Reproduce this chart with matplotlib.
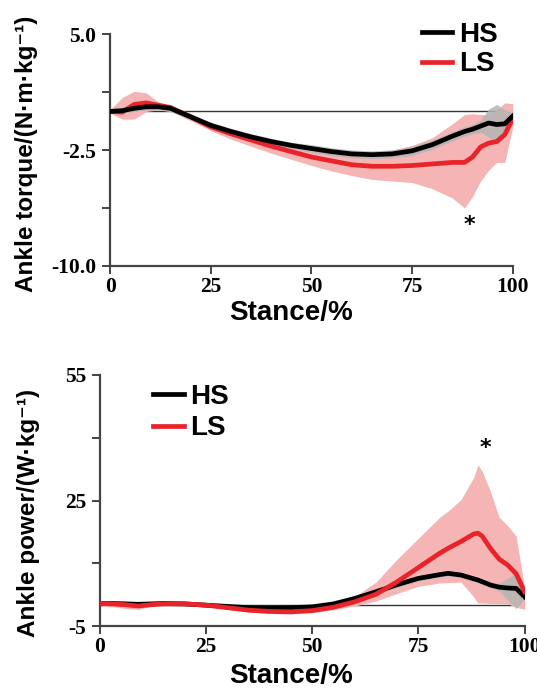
import numpy as np
import matplotlib
matplotlib.use("Agg")
import matplotlib.pyplot as plt

# ---- ankle torque (top panel) ----
stance_t = [0, 3, 6, 9, 12, 15, 20, 25, 30, 35, 40, 45, 50, 55, 60, 65, 70,
            75, 80, 85, 88, 90, 92, 94, 96, 98, 100]
hs_torque = [0.0, 0.05, 0.2, 0.3, 0.3, 0.2, -0.35, -0.9, -1.3, -1.65, -1.95, -2.2,
             -2.4, -2.6, -2.75, -2.8, -2.75, -2.55, -2.15, -1.6, -1.3, -1.15,
             -0.95, -0.75, -0.85, -0.8, -0.3]
hs_torque_sd = [0.1, 0.15, 0.2, 0.2, 0.2, 0.2, 0.2, 0.2, 0.2, 0.2, 0.2, 0.2, 0.25,
                0.25, 0.25, 0.25, 0.25, 0.3, 0.3, 0.3, 0.3, 0.3, 0.4, 0.9, 1.3, 0.9, 0.2]
ls_torque = [0.0, -0.05, 0.45, 0.55, 0.4, 0.25, -0.35, -1.0, -1.45, -1.85, -2.25,
             -2.6, -2.95, -3.2, -3.45, -3.55, -3.55, -3.5, -3.4, -3.3, -3.3, -2.95,
             -2.3, -2.05, -1.95, -1.5, -0.45]
ls_torque_hi = [0.1, 0.9, 1.3, 1.2, 0.6, 0.35, -0.15, -0.75, -1.1, -1.45, -1.75,
                -2.05, -2.3, -2.55, -2.6, -2.6, -2.5, -2.2, -1.7, -0.8, -0.2, -0.15,
                -0.2, -0.2, 0.1, 0.55, 0.5]
ls_torque_lo = [-0.1, -0.5, -0.5, 0.0, 0.1, 0.0, -0.6, -1.25, -1.8, -2.25, -2.7,
                -3.1, -3.5, -3.85, -4.15, -4.4, -4.5, -4.6, -5.0, -5.6, -6.25, -5.5,
                -4.5, -3.8, -3.3, -3.3, -1.0]

# ---- ankle power (bottom panel) ----
stance_p = [0, 3, 6, 9, 12, 15, 20, 25, 30, 35, 40, 45, 50, 55, 60, 65, 70, 75,
            80, 82, 85, 88, 89, 90, 92, 94, 96, 98, 100]
hs_power = [0.4, 0.4, 0.3, 0.2, 0.3, 0.4, 0.3, 0.0, -0.3, -0.6, -0.7, -0.6, -0.4,
            0.3, 1.6, 3.2, 4.9, 6.4, 7.3, 7.6, 7.2, 6.3, 6.0, 5.6, 4.8, 4.3, 4.1,
            4.0, 2.0]
hs_power_hi = [0.8, 0.8, 0.7, 0.6, 0.7, 0.8, 0.7, 0.4, 0.1, -0.2, -0.3, -0.2, 0.0,
               0.8, 2.1, 3.8, 5.5, 7.0, 7.9, 8.2, 7.8, 6.9, 6.6, 6.2, 5.4, 5.2, 6.5,
               7.6, 2.5]
hs_power_lo = [0.0, 0.0, -0.1, -0.2, -0.1, 0.0, -0.1, -0.4, -0.7, -1.0, -1.1, -1.0,
               -0.8, -0.2, 1.1, 2.6, 4.3, 5.8, 6.7, 7.0, 6.6, 5.7, 5.4, 5.0, 4.2,
               3.4, 1.2, -0.8, 1.5]
ls_power = [0.4, 0.3, 0.1, -0.2, 0.1, 0.3, 0.3, 0.0, -0.6, -1.2, -1.5, -1.6, -1.3,
            -0.5, 0.8, 2.6, 5.6, 9.0, 12.4, 13.6, 15.2, 17.0, 17.2, 16.5, 13.5,
            11.0, 9.6, 7.5, 3.2]
ls_power_hi = [1.0, 0.9, 1.0, 0.5, 0.4, 0.5, 0.5, 0.3, -0.2, -0.6, -0.9, -1.0, -0.8,
               0.1, 2.0, 5.5, 11.0, 16.0, 21.0, 22.5, 25.2, 30.5, 33.5, 32.0, 27.0,
               21.0, 19.0, 16.5, 4.0]
ls_power_lo = [-0.3, -0.4, -0.8, -1.0, -0.3, 0.1, 0.1, -0.3, -1.0, -1.6, -2.0, -2.1,
               -1.8, -1.1, -0.2, 1.0, 2.8, 4.5, 5.3, 5.4, 5.5, 2.0, 0.5, 0.5, 0.4,
               0.4, 0.3, -0.5, -1.0]

x_ticks = [0, 25, 50, 75, 100]
torque_ticks = [5.0, 1.25, -2.5, -6.25, -10.0]
torque_labels = ["5.0", "", "-2.5", "", "-10.0"]
power_ticks = [55, 40, 25, 10, -5]
power_labels = ["55", "", "25", "", "-5"]

RED = "#e8242a"
PINK = "#f5b5b5"
GREY = "#b4b4b4"
SPINE = "#444444"
SANS = ["Liberation Sans", "DejaVu Sans"]
SERIF = ["Liberation Serif", "DejaVu Serif"]
LEG_FONT = {"family": SANS, "weight": "bold", "size": 20}


def style_axis(ax, yticks, ylabels, ylim, xlab_y):
    ax.set_xlim(0, 100)
    ax.set_ylim(*ylim)
    for s in ("top", "right"):
        ax.spines[s].set_visible(False)
    for s in ("left", "bottom"):
        ax.spines[s].set_color(SPINE)
        ax.spines[s].set_linewidth(1.6)
    ax.set_xticks(x_ticks)
    ax.set_yticks(yticks)
    ax.set_yticklabels(ylabels)
    ax.tick_params(direction="out", length=5.8, width=1.4, color=SPINE)
    ax.tick_params(axis="x", pad=2)
    ax.tick_params(axis="y", pad=4)
    for lab in ax.get_xticklabels() + ax.get_yticklabels():
        lab.set_family(SERIF)
        lab.set_fontweight("bold")
        lab.set_fontsize(15.5)
    ax.set_xlabel("Stance/%", family=SANS, fontweight="bold", fontsize=20)
    ax.xaxis.set_label_coords(0.45, xlab_y)


fig = plt.figure(figsize=(5.37, 6.88), dpi=100)

# top: torque
ax1 = fig.add_axes([0.205, 0.6134, 0.750, 0.337])
ax1.axhline(0, 0, 1, color="#333333", lw=1.0, zorder=1)
ax1.fill_between(stance_t, ls_torque_lo, ls_torque_hi, color=PINK, lw=0, zorder=2)
hs_t = np.array(hs_torque)
sd_t = np.array(hs_torque_sd)
ax1.fill_between(stance_t, hs_t - sd_t, hs_t + sd_t, color=GREY, lw=0, alpha=0.85, zorder=3)
ax1.plot(stance_t, ls_torque, color=RED, lw=3.4, zorder=4, label="LS")
ax1.plot(stance_t, hs_torque, color="black", lw=3.4, zorder=5, label="HS")
ax1.text(89.3, -7.35, "*", ha="center", va="center", fontsize=16, fontweight="bold")
style_axis(ax1, torque_ticks, torque_labels, (-10, 5), -0.145)
ax1.set_ylabel("Ankle torque/(N·m·kg⁻¹)", family=SANS, fontweight="bold", fontsize=17.5)
ax1.yaxis.set_label_coords(-0.18, 0.483)
h, l = ax1.get_legend_handles_labels()
ax1.legend(h[::-1], l[::-1], loc="upper left", bbox_to_anchor=(0.774, 1.052),
           frameon=False, borderpad=0, borderaxespad=0, handlelength=1.1,
           handletextpad=0.25, labelspacing=0.12, prop=LEG_FONT)

# bottom: power
ax2 = fig.add_axes([0.186, 0.090, 0.791, 0.365])
ax2.axhline(0, 0, 1, color="#333333", lw=1.0, zorder=1)
ax2.fill_between(stance_p, ls_power_lo, ls_power_hi, color=PINK, lw=0, zorder=2)
ax2.fill_between(stance_p, hs_power_lo, hs_power_hi, color=GREY, lw=0, alpha=0.85, zorder=3)
ax2.plot(stance_p, hs_power, color="black", lw=3.4, zorder=4, label="HS")
ax2.plot(stance_p, ls_power, color=RED, lw=3.4, zorder=5, label="LS")
ax2.text(90.8, 37.5, "*", ha="center", va="center", fontsize=16, fontweight="bold")
style_axis(ax2, power_ticks, power_labels, (-5, 55), -0.148)
ax2.set_ylabel("Ankle power/(W·kg⁻¹)", family=SANS, fontweight="bold", fontsize=17.5)
ax2.yaxis.set_label_coords(-0.141, 0.45)
ax2.legend(loc="upper left", bbox_to_anchor=(0.125, 0.965),
           frameon=False, borderpad=0, borderaxespad=0, handlelength=1.1,
           handletextpad=0.25, labelspacing=0.2, prop=LEG_FONT)

fig.savefig("out.png", dpi=100)
